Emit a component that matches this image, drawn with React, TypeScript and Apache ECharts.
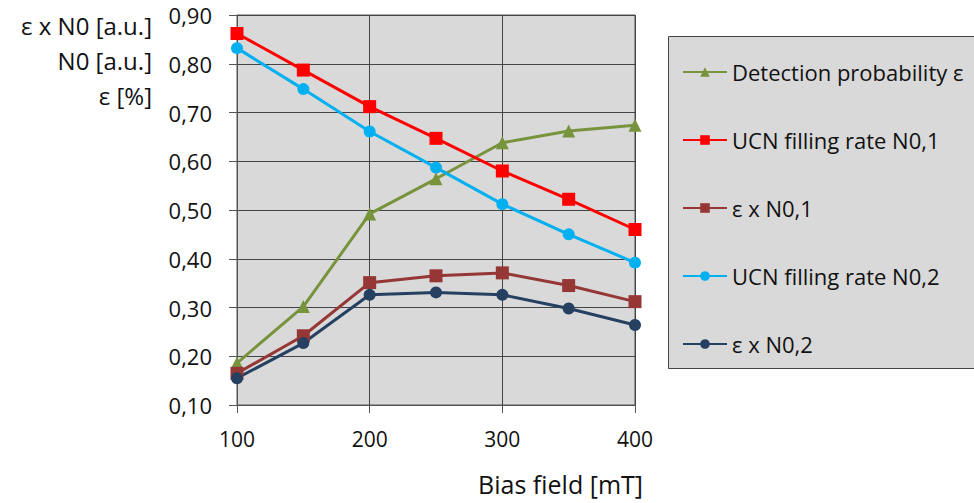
import React, { useEffect, useRef } from "react";
import * as echarts from "echarts";

const xValues = [100, 150, 200, 250, 300, 350, 400];
const detection = [0.186, 0.302, 0.492, 0.564, 0.638, 0.662, 0.674];
const fillingN01 = [0.862, 0.787, 0.712, 0.647, 0.58, 0.522, 0.46];
const epsN01 = [0.165, 0.242, 0.351, 0.365, 0.371, 0.345, 0.312];
const fillingN02 = [0.832, 0.748, 0.661, 0.587, 0.512, 0.45, 0.392];
const epsN02 = [0.155, 0.227, 0.326, 0.331, 0.326, 0.298, 0.264];
const yNames = ["ε x N0 [a.u.]", "N0 [a.u.]", "ε [%]"];
const xName = "Bias field [mT]";

const FONT = "'Open Sans', 'DejaVu Sans', sans-serif";

export default function App() {
  const ref = useRef<HTMLDivElement>(null);
  useEffect(() => {
    const chart = echarts.init(ref.current!, null, { renderer: "svg" });
    const mk = (name: string, data: number[], color: string, symbol: string, size: number) => ({
      name,
      type: "line",
      data: xValues.map((x, i) => [x, data[i]]),
      symbol,
      symbolSize: size,
      lineStyle: { color, width: 3 },
      itemStyle: { color },
    });
    const yCenters = [25, 60, 95];
    chart.setOption({
      animation: false,
      backgroundColor: "#ffffff",
      grid: { left: 237, right: 339, top: 15, bottom: 98, show: true, backgroundColor: "#d9d9d9", borderColor: "#555", borderWidth: 1 },
      xAxis: {
        type: "value",
        min: 100,
        max: 400,
        interval: 100,
        axisLine: { lineStyle: { color: "#555", width: 1 } },
        axisTick: { show: true, length: 8, lineStyle: { color: "#555" } },
        axisLabel: { fontSize: 21, color: "#111", fontFamily: FONT, margin: 23 },
        splitLine: { show: true, lineStyle: { color: "#444", width: 1 } },
      },
      yAxis: {
        type: "value",
        min: 0.1,
        max: 0.9,
        interval: 0.1,
        axisLine: { show: true, lineStyle: { color: "#555", width: 1 } },
        axisTick: { show: true, length: 8, lineStyle: { color: "#555" } },
        axisLabel: { fontSize: 22, color: "#111", fontFamily: FONT, margin: 25, formatter: (v: number) => v.toFixed(2).replace(".", ",") },
        splitLine: { show: true, lineStyle: { color: "#444", width: 1 } },
      },
      legend: {
        orient: "vertical",
        left: 682,
        top: 60,
        padding: 0,
        itemWidth: 44,
        itemHeight: 12,
        itemGap: 44,
        textStyle: { fontSize: 22, lineHeight: 24, color: "#111", fontFamily: FONT },
        data: [
          "Detection probability ε",
          "UCN filling rate N0,1",
          "ε x N0,1",
          "UCN filling rate N0,2",
          "ε x N0,2",
        ],
      },
      graphic: [
        { type: "rect", z: -1, shape: { x: 668.5, y: 36.5, width: 310, height: 332 }, style: { fill: "#d9d9d9", stroke: "#444", lineWidth: 1 } },
        ...yNames.map((t, i) => ({
          type: "text",
          x: 152,
          y: yCenters[i],
          style: { text: t, fontSize: 24, fill: "#111", fontFamily: FONT, align: "right", verticalAlign: "middle" },
        })),
        {
          type: "text",
          x: 643,
          y: 484,
          style: { text: xName, fontSize: 25, fill: "#111", fontFamily: FONT, align: "right", verticalAlign: "middle" },
        },
      ],
      series: [
        mk("Detection probability ε", detection, "#77933c", "triangle", 13),
        mk("UCN filling rate N0,1", fillingN01, "#ff0000", "rect", 13),
        mk("ε x N0,1", epsN01, "#953735", "rect", 13),
        mk("UCN filling rate N0,2", fillingN02, "#00b0f0", "circle", 12),
        mk("ε x N0,2", epsN02, "#254061", "circle", 12),
      ],
    });
    return () => chart.dispose();
  }, []);
  return <div ref={ref} style={{ width: 974, height: 503, position: "absolute", left: 0, top: 0 }} />;
}
